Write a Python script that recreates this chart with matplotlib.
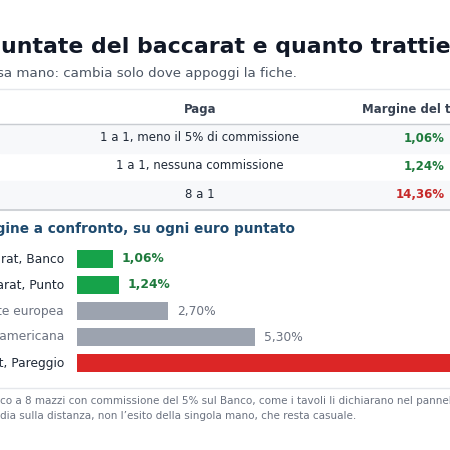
import matplotlib.pyplot as plt
from matplotlib.patches import Rectangle

# table data (left column is cut off in the reference)
pays = ["1 a 1, meno il 5% di commissione", "1 a 1, nessuna commissione", "8 a 1"]
margins_tab = ["1,06%", "1,24%", "14,36%"]
tab_colors = ["#1e7a3c", "#1e7a3c", "#c62828"]

# bar data
games = ["Baccarat, Banco", "Baccarat, Punto", "Roulette europea",
         "Roulette americana", "Baccarat, Pareggio"]
edge = [1.06, 1.24, 2.70, 5.30, 14.36]
bar_colors = ["#16a34a", "#16a34a", "#9ca3af", "#9ca3af", "#dc2626"]
lab_colors = ["#1e7a3c", "#1e7a3c", "#6b7280", "#6b7280", "#1e7a3c"]
name_colors = ["#1f2937", "#1f2937", "#6b7280", "#6b7280", "#1f2937"]
bold = [True, True, False, False, True]

fig = plt.figure(figsize=(4.5, 4.5), dpi=100)
bg = fig.add_axes([0, 0, 1, 1])
bg.set_xlim(0, 450)
bg.set_ylim(450, 0)
bg.axis("off")

bg.text(1, 47, "untate del baccarat e quanto trattiene il banco", fontsize=15.8,
        fontweight="bold", color="#111827", va="center", ha="left")
bg.text(297, 73, "Stessa mano: cambia solo dove appoggi la fiche.", fontsize=9.6,
        color="#4b5563", va="center", ha="right")

# table
bg.plot([0, 450], [89, 89], color="#e5e7eb", lw=1)
bg.text(200, 110, "Paga", fontsize=8.5, fontweight="bold", color="#374151",
        ha="center", va="center")
bg.text(362, 110, "Margine del tavolo", fontsize=8.5, fontweight="bold", color="#374151",
        ha="left", va="center")
bg.plot([0, 450], [123.5, 123.5], color="#c9ccd1", lw=1)
row_y = [138, 166, 195]
for i, (p, m, c) in enumerate(zip(pays, margins_tab, tab_colors)):
    if i % 2 == 0:
        bg.add_patch(Rectangle((0, row_y[i] - 14), 450, 28.5, color="#f7f8fa", zorder=0))
    bg.text(200, row_y[i], p, fontsize=8.5, color="#1f2937", ha="center", va="center")
    bg.text(445, row_y[i], m, fontsize=8.5, fontweight="bold", color=c,
            ha="right", va="center")
bg.plot([0, 450], [209.5, 209.5], color="#c9ccd1", lw=1.2)

bg.text(295, 229, "Il margine a confronto, su ogni euro puntato", fontsize=9.8,
        fontweight="bold", color="#1e4a6e", ha="right", va="center")

# bar chart, 33.6 px per percentage point starting at x=77
ax = fig.add_axes([77 / 450, 1 - 376 / 450, 373 / 450, 130 / 450])
ax.set_xlim(0, 373 / 33.6)
ax.set_ylim(4.5, -0.5)
ax.axis("off")
ax.barh(range(len(games)), edge, height=0.7, color=bar_colors)
for i, (g, v) in enumerate(zip(games, edge)):
    ax.text(v + 0.27, i, f"{v:.2f}%".replace(".", ","), fontsize=8.8,
            fontweight="bold" if bold[i] else "normal", color=lab_colors[i],
            va="center", ha="left")
    bg.text(64, 259 + 26 * i, g, fontsize=8.8, color=name_colors[i],
            ha="right", va="center")

bg.plot([0, 450], [388, 388], color="#e5e7eb", lw=1)
bg.text(0, 401, "co a 8 mazzi con commissione del 5% sul Banco, come i tavoli li dichiarano nel pannello.",
        fontsize=7.5, color="#6b7280", ha="left", va="center")
bg.text(0, 416, "dia sulla distanza, non l\u2019esito della singola mano, che resta casuale.",
        fontsize=7.5, color="#6b7280", ha="left", va="center")

fig.savefig("out.png", dpi=100)
